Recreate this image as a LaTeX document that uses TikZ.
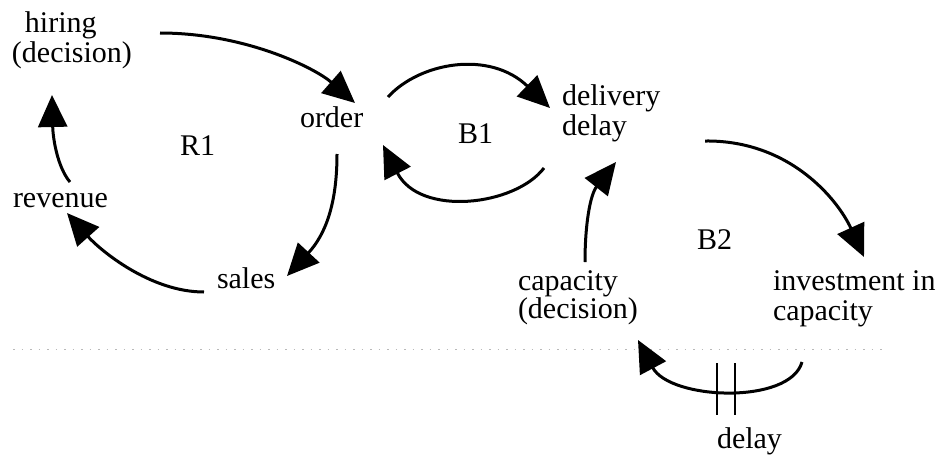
\documentclass[tikz,border=0pt]{standalone}
\usepackage{fontspec}
\setmainfont{Liberation Serif}
\usetikzlibrary{arrows.meta}
\newcommand\tstrut{\rule{0pt}{22pt}}
\begin{document}
\begin{tikzpicture}[x=1pt,y=-1pt,
  lbl/.style={anchor=north west, inner sep=0pt, outer sep=0pt, align=left, font=\fontsize{30}{30}\selectfont},
  link/.style={line width=3pt, -{Triangle[length=32pt,width=29pt]}},
  bar/.style={line width=2.5pt},
  scanline/.style={gray!55, line width=1pt, dash pattern=on 1.5pt off 7pt}]
\useasboundingbox (0,0) rectangle (941,460);

% labels
\node[lbl] (hiring) at (12,11) {\tstrut\hspace*{13pt}hiring\\(decision)};
\node[lbl] (order) at (300,105) {\tstrut order};
\node[lbl] (R1) at (180,133) {\tstrut R1};
\node[lbl] (revenue) at (13,185) {\tstrut revenue};
\node[lbl] (sales) at (217,266) {\tstrut sales};
\node[lbl] (B1) at (458,121) {\tstrut B1};
\node[lbl] (delivery) at (562,83) {\tstrut delivery\\delay};
\node[lbl] (B2) at (697,227) {\tstrut B2};
\node[lbl, font=\fontsize{30}{28}\selectfont] (capacity) at (518,268) {\tstrut capacity\\(decision)};
\node[lbl] (invest) at (773,268) {\tstrut investment in\\capacity};
\node[lbl] (delay) at (717,426) {\tstrut delay};

% faint scan line
\draw[scanline] (13,349) -- (887,349);

% connectors
\draw[link] ([shift={(148,22)}]hiring.north west) .. controls +(85,0) and +(-40,-35) .. ([shift={(55,-2)}]order.north west);
\draw[link] ([shift={(37,49)}]order.north west) .. controls +(0,51) and +(38,-41) .. ([shift={(70,10)}]sales.north west);
\draw[link] ([shift={(-13,26)}]sales.north west) .. controls +(-54,0) and +(33,37) .. ([shift={(54,28)}]revenue.north west);
\draw[link] ([shift={(57,-3)}]revenue.north west) .. controls +(-12,-14) and +(1,45) .. ([shift={(40,84)}]hiring.north west);
\draw[link] ([shift={(88,-8)}]order.north west) .. controls +(32,-35) and +(-60,-58) .. ([shift={(-12,25)}]delivery.north west);
\draw[link] ([shift={(-18,85)}]delivery.north west) .. controls +(-29,38) and +(37,72) .. ([shift={(83,40)}]order.north west);
\draw[link] ([shift={(67,-6)}]capacity.north west) .. controls +(0,-37) and +(-26,33) .. ([shift={(54,79)}]delivery.north west);
\draw[link] ([shift={(143,58)}]delivery.north west) .. controls +(85,-1) and +(-26,-57) .. ([shift={(91,-11)}]invest.north west);
\draw[link] ([shift={(29,94)}]invest.north west) .. controls +(-12,43) and +(32,60) .. ([shift={(120,72)}]capacity.north west);

% delay marks
\draw[bar] ([shift={(0,-63)}]delay.north west) -- ([shift={(0,-11)}]delay.north west);
\draw[bar] ([shift={(18,-63)}]delay.north west) -- ([shift={(18,-11)}]delay.north west);
\end{tikzpicture}
\end{document}
